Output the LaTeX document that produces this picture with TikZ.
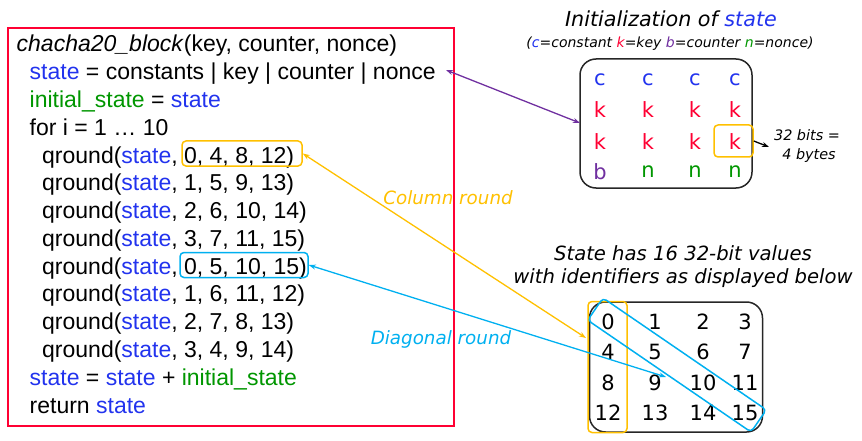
\documentclass[tikz,border=0pt]{standalone}
\usepackage{fontspec}
\setmainfont{Liberation Sans}
\newfontfamily\comic{DejaVu Sans}
\usetikzlibrary{arrows.meta}
\definecolor{cblue}{RGB}{34,51,238}
\definecolor{cgreen}{RGB}{0,150,0}
\definecolor{cred}{RGB}{255,0,51}
\definecolor{cpurple}{RGB}{112,48,160}
\definecolor{cyel}{RGB}{255,192,0}
\definecolor{ccyan}{RGB}{0,176,240}
\newcommand{\st}{\textcolor{cblue}{state}}
\newcommand{\ist}{\textcolor{cgreen}{initial\_state}}
\tikzset{
  code/.style={anchor=base west,inner sep=0pt,font=\fontsize{23}{27}\selectfont},
  lbl/.style={inner sep=0pt,anchor=base,font=\comic\itshape\fontsize{#1}{#1}\selectfont},
  cell/.style={inner sep=0pt,font=\comic\fontsize{21}{21}\selectfont},
  ybox/.style={draw=cyel,line width=1.5pt,rounded corners=4pt,inner sep=0pt},
  cbox/.style={draw=ccyan,line width=1.5pt,rounded corners=4pt,inner sep=0pt},
  gbox/.style={draw=black!85,line width=1.5pt,rounded corners=16pt,inner sep=0pt},
  dblarr/.style={line width=1.3pt,{Stealth[length=7pt,width=5pt]}-{Stealth[length=7pt,width=5pt]}},
}
\begin{document}
\begin{tikzpicture}[x=1pt,y=-1pt]
\useasboundingbox (0,0) rectangle (862,441);
% code box
\draw[cred,line width=2.6pt] (8,28) rectangle (454,426);
\node[code] (l1) at (16.5,52) {\textit{chacha20\_block}(key, counter, nonce)};
\node[code] (l2) at (29.5,79.8) {\st{} = constants | key | counter | nonce};
\node[code] (l3) at (29.5,107.5) {\ist{} = \st};
\node[code] (l4) at (29.5,135.3) {for i = 1 … 10};
\node[code] (l5) at (42,163.1) {qround(\st, 0, 4, 8, 12)};
\node[code] (l6) at (42,190.9) {qround(\st, 1, 5, 9, 13)};
\node[code] (l7) at (42,218.6) {qround(\st, 2, 6, 10, 14)};
\node[code] (l8) at (42,246.4) {qround(\st, 3, 7, 11, 15)};
\node[code] (l9) at (42,274.2) {qround(\st, 0, 5, 10, 15)};
\node[code] (l10) at (42,301.9) {qround(\st, 1, 6, 11, 12)};
\node[code] (l11) at (42,329.7) {qround(\st, 2, 7, 8, 13)};
\node[code] (l12) at (42,357.5) {qround(\st, 3, 4, 9, 14)};
\node[code] (l13) at (29.5,385.2) {\st{} = \st{} + \ist};
\node[code] (l14) at (29.5,413) {return \st};
% highlight boxes in code
\node[ybox,minimum width=120pt,minimum height=25pt] (colbox) at (242,153.5) {};
\node[cbox,minimum width=128pt,minimum height=25pt] (diabox) at (244,265) {};
% initialization panel
\node[lbl=20.7] (ttl) at (671,27) {Initialization of \textcolor{cblue}{state}};
\node[lbl=14] (leg) at (670,48) {(\textcolor{cblue}{c}=constant \textcolor{cred}{k}=key \textcolor{cpurple}{b}=counter \textcolor{cgreen}{n}=nonce)};
\node[gbox,minimum width=172pt,minimum height=129pt] (sbox) at (666,123.5) {};
\foreach \x/\n in {600/1,648/2,695/3,735/4}{
  \node[cell,text=cblue] (c\n) at (\x,80) {c};
  \node[cell,text=cred] (ka\n) at (\x,110) {k};
  \node[cell,text=cred] (kb\n) at (\x,142) {k};
}
\node[cell,text=cpurple] (b1) at (600,172) {b};
\foreach \x/\n in {648/2,695/3,735/4}{
  \node[cell,text=cgreen] (n\n) at (\x,172) {n};
}
\node[ybox,minimum width=39pt,minimum height=32pt] (kbox) at (733.5,141) {};
\node[lbl=14.4] (bits) at (807,141) {32 bits =};
\node[lbl=14.4] (bytes) at (809,160) {4 bytes};
\coordinate (bitsend) at (769,147);
\draw[line width=1.3pt,-{Stealth[length=7pt,width=5pt]}] (kbox.east) -- (bitsend);
% index grid
\node[lbl=19.6] (sh1) at (683,260) {State has 16 32-bit values};
\node[lbl=19.6] (sh2) at (683,283) {with identifiers as displayed below};
\node[gbox,minimum width=173pt,minimum height=130pt] (ibox) at (676,367) {};
\foreach \x [count=\c from 0] in {608,655,703,745}{
  \foreach \y [count=\r from 0] in {322,352,383,413}{
    \pgfmathtruncatemacro{\idx}{4*\r+\c}
    \node[cell] (g\idx) at (\x,\y) {\idx};
  }
}
\node[ybox,minimum width=39pt,minimum height=131pt] (colhl) at (607.5,367) {};
\node[cbox,minimum width=198pt,minimum height=27pt,rotate=-34.4] (diahl) at (677,365) {};
% connectors
\coordinate (colend) at (586,338);
\coordinate (diaend) at (666,377);
\coordinate (nonceend) at (446,70);
\coordinate (stend) at (580,123);
\draw[dblarr,cyel] (colbox.east) -- (colend);
\draw[dblarr,ccyan] (diabox.east) -- (diaend);
\draw[dblarr,cpurple] (nonceend) -- (stend);
\node[lbl=18.3,text=cyel] (colr) at (448,204) {Column round};
\node[lbl=18.3,text=ccyan] (diar) at (441,344) {Diagonal round};
\end{tikzpicture}
\end{document}
